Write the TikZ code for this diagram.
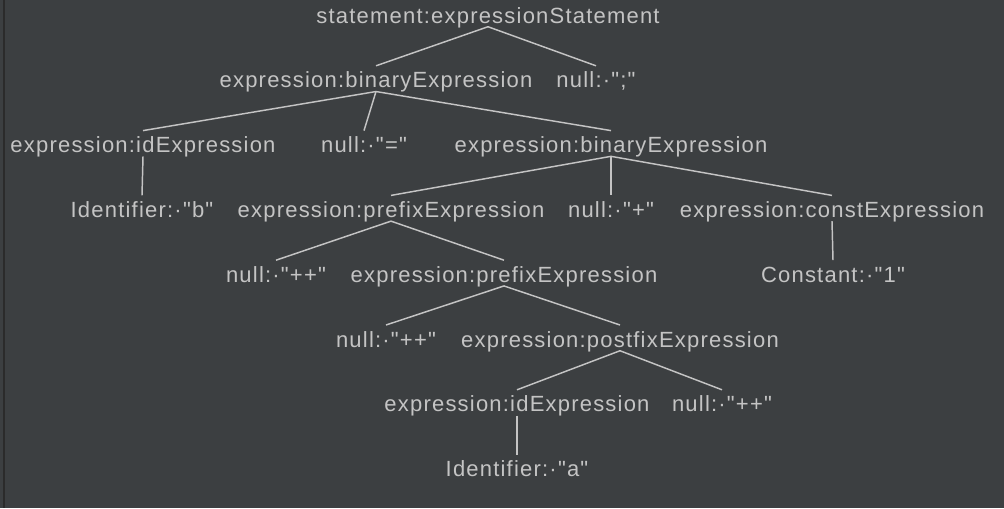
\documentclass[tikz,border=0pt]{standalone}
\usepackage{fontspec}
\setmainfont{Liberation Sans}[LetterSpace=5.5,Ligatures=TeXOff]
\usepackage{tikz}
\definecolor{panelbg}{RGB}{60,63,65}
\definecolor{panelrule}{RGB}{43,43,43}
\definecolor{treefg}{RGB}{196,196,196}
\tikzset{
  tnode/.style={text=treefg, anchor=base, inner sep=0pt, text height=16.3pt, text depth=2.6pt, font=\fontsize{16.5pt}{19pt}\selectfont},
  tedge/.style={draw=treefg, line width=1.1pt}
}

\begin{document}
\begin{tikzpicture}[x=0.75pt,y=0.75pt,yscale=-1,xscale=1]
%Shape: Rectangle [background]
\fill [panelbg] (0,0) rectangle (1004,508) ;
\useasboundingbox (0,0) rectangle (1004,508) ;
%Straight Lines [panel rule]
\fill [panelrule] (3,0) rectangle (5,508) ;

%Text Node
\node [tnode] (root) at (488,23) {statement:expressionStatement};
%Text Node
\node [tnode] (binA) at (376,87.8) {expression:binaryExpression};
\node [tnode] (semi) at (596,87.8) {null:·";"};
%Text Node
\node [tnode] (idB) at (143,152.6) {expression:idExpression};
\node [tnode] (eq) at (364,152.6) {null:·"="};
\node [tnode] (binB) at (611,152.6) {expression:binaryExpression};
%Text Node
\node [tnode] (identB) at (142,217.4) {Identifier:·"b"};
\node [tnode] (preA) at (391,217.4) {expression:prefixExpression};
\node [tnode] (plus) at (611,217.4) {null:·"+"};
\node [tnode] (constE) at (832,217.4) {expression:constExpression};
%Text Node
\node [tnode] (ppA) at (276,282.2) {null:·"++"};
\node [tnode] (preB) at (504,282.2) {expression:prefixExpression};
\node [tnode] (constOne) at (833,282.2) {Constant:·"1"};
%Text Node
\node [tnode] (ppB) at (386,347) {null:·"++"};
\node [tnode] (postE) at (620,347) {expression:postfixExpression};
%Text Node
\node [tnode] (idA) at (517,411.8) {expression:idExpression};
\node [tnode] (ppC) at (722,411.8) {null:·"++"};
%Text Node
\node [tnode] (identA) at (517,476.6) {Identifier:·"a"};

%Straight Lines
\draw [tedge] (root.south) -- (binA.north) ;
\draw [tedge] (root.south) -- (semi.north) ;
\draw [tedge] (binA.south) -- (idB.north) ;
\draw [tedge] (binA.south) -- (eq.north) ;
\draw [tedge] (binA.south) -- (binB.north) ;
\draw [tedge] (idB.south) -- (identB.north) ;
\draw [tedge] (binB.south) -- (preA.north) ;
\draw [tedge] (binB.south) -- (plus.north) ;
\draw [tedge] (binB.south) -- (constE.north) ;
\draw [tedge] (preA.south) -- (ppA.north) ;
\draw [tedge] (preA.south) -- (preB.north) ;
\draw [tedge] (constE.south) -- (constOne.north) ;
\draw [tedge] (preB.south) -- (ppB.north) ;
\draw [tedge] (preB.south) -- (postE.north) ;
\draw [tedge] (postE.south) -- (idA.north) ;
\draw [tedge] (postE.south) -- (ppC.north) ;
\draw [tedge] (idA.south) -- (identA.north) ;

\end{tikzpicture}
\end{document}
